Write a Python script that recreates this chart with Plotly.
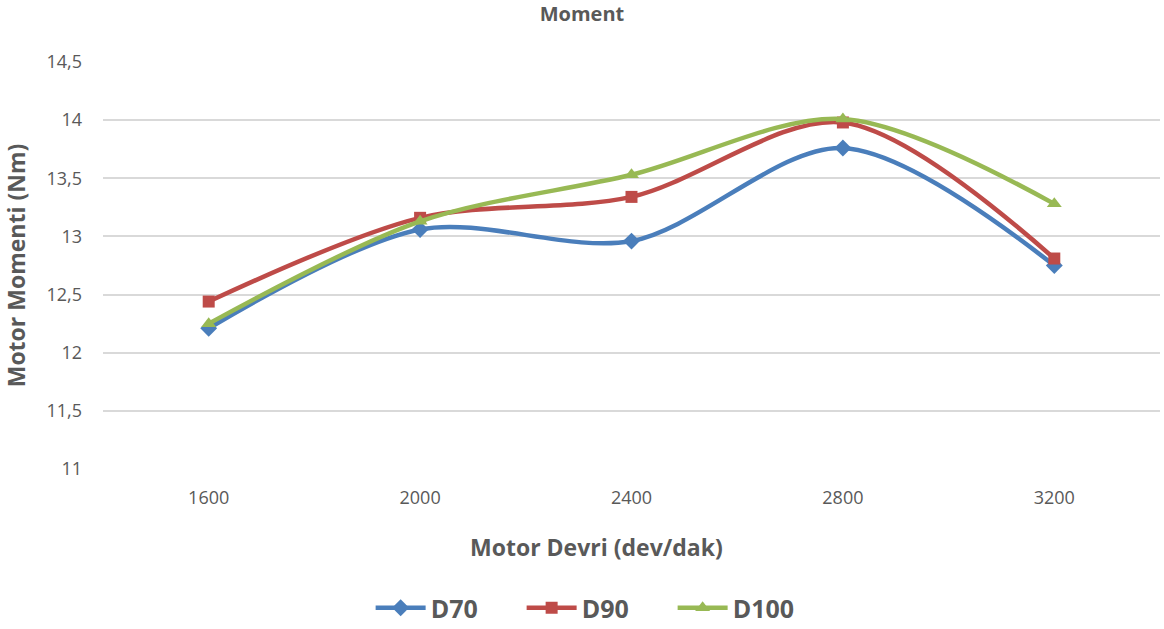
import plotly.graph_objects as go

categories = ["1600", "2000", "2400", "2800", "3200"]
d70 = [12.21, 13.06, 12.96, 13.76, 12.75]
d90 = [12.44, 13.16, 13.34, 13.98, 12.81]
d100 = [12.25, 13.13, 13.53, 14.01, 13.28]
series_names = ["D70", "D90", "D100"]
y_ticks = [11, 11.5, 12, 12.5, 13, 13.5, 14, 14.5]
y_tick_labels = ["11", "11,5", "12", "12,5", "13", "13,5", "14", "14,5"]

colors = ["#4A7EBB", "#BE4B48", "#98B954"]
symbols = ["diamond", "square", "triangle-up"]
sizes = [13, 12, 13]

fig = go.Figure()
for name, vals, c, s, sz in zip(series_names, [d70, d90, d100], colors, symbols, sizes):
    fig.add_trace(go.Scatter(
        x=categories, y=vals, name="<b>" + name + "</b>", mode="lines+markers",
        line=dict(color=c, width=4.5, shape="spline", smoothing=0.9),
        marker=dict(symbol=s, size=sz, color=c),
    ))

font_family = "Open Sans, Liberation Sans, sans-serif"
gray = "#595959"

fig.update_layout(
    width=1164, height=629,
    paper_bgcolor="white", plot_bgcolor="white",
    margin=dict(l=103, r=4, t=62, b=160),
    font=dict(family=font_family, color=gray),
    title=dict(text="<b>Moment</b>", x=0.5, xref="container", y=1 - 14 / 629,
               yref="container", yanchor="middle", xanchor="center",
               font=dict(size=20, color=gray)),
    xaxis=dict(type="category", range=[-0.5, 4.5], showgrid=False,
               showline=False, zeroline=False, ticks="", ticklabelstandoff=16,
               tickfont=dict(size=18, color=gray)),
    yaxis=dict(range=[11, 14.5], tickvals=y_ticks, ticktext=y_tick_labels,
               showgrid=True, gridcolor="#D9D9D9", gridwidth=2, zeroline=False,
               showline=False, ticks="", ticklabelstandoff=20,
               tickfont=dict(size=18, color=gray),
               title=dict(text="<b>Motor Momenti (Nm)</b>", font=dict(size=23, color=gray),
                          standoff=16)),
    legend=dict(orientation="h", xref="container", yref="container",
                x=0.513, xanchor="center", y=1 - 608 / 629, yanchor="middle",
                font=dict(size=25, color=gray), itemwidth=50,
                entrywidth=86),
    showlegend=True,
    annotations=[dict(text="<b>Motor Devri (dev/dak)</b>", xref="paper", yref="paper",
                      x=(596 - 103) / (1160 - 103), y=-(547 - 469) / (469 - 62),
                      xanchor="center", yanchor="middle", showarrow=False,
                      font=dict(size=23, color=gray))],
)

fig.write_html("out.html")
